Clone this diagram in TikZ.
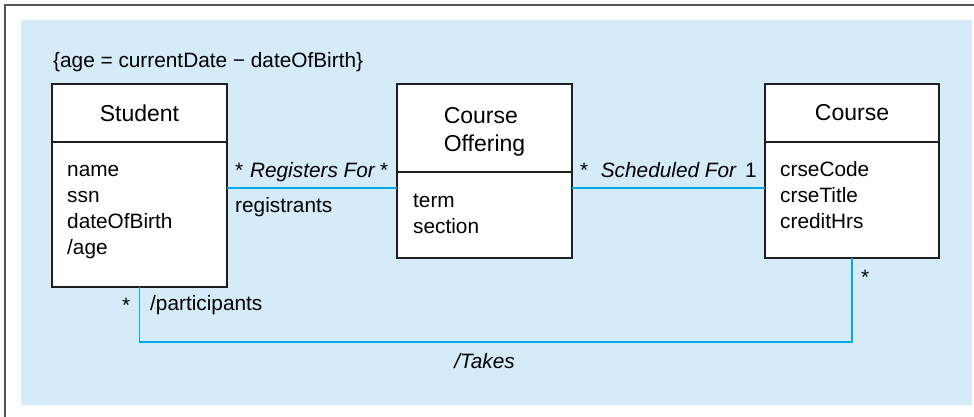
\documentclass[tikz,border=0pt]{standalone}
\usepackage{fontspec}
\setmainfont{Liberation Sans}
\usepackage{xcolor}
\usepackage{tikz}
\usetikzlibrary{positioning}
\definecolor{umlbg}{RGB}{214,235,248}
\definecolor{umlline}{RGB}{0,170,235}
\definecolor{umlframe}{RGB}{85,85,85}
\definecolor{umlbox}{RGB}{30,30,30}

\begin{document}
\begin{tikzpicture}[x=1pt, y=-1pt,
    classhead/.style={draw=umlbox, fill=white, line width=1.2pt, outer sep=0pt,
      inner sep=0pt, minimum width=175, font=\fontsize{23}{28}\selectfont, align=left},
    classbody/.style={draw=umlbox, fill=white, line width=1.2pt, outer sep=0pt,
      inner sep=0pt, minimum width=175},
    attr/.style={inner sep=0pt, align=left, font=\fontsize{20.8}{25.7}\selectfont},
    txt/.style={inner sep=0pt, font=\fontsize{20.8}{25.7}\selectfont},
    assocname/.style={inner sep=0pt, font=\fontsize{20.8}{25.7}\selectfont\itshape},
    assoc/.style={draw=umlline, line width=1.3pt}]
  \useasboundingbox (0,0) rectangle (974,417);
  \fill[umlbg] (21,20) rectangle (972,405);
  \draw[umlframe, line width=1.8pt] (5,417) -- (5,5) -- (974,5);

  \node[txt, anchor=base west] (constraint) at (53,68) {\{age = currentDate − dateOfBirth\}};

  \node[classhead, minimum height=58] (student) at (139.5,113) {Student};
  \node[classbody, minimum height=145, below=0pt of student] (studentbody) {};
  \node[attr, anchor=base west] (studentattr) at (67,254) {name\\ssn\\dateOfBirth\\/age};

  \node[classhead, minimum height=88, text height=46pt, text depth=0pt] (offering) at (484.5,128) {Course\\Offering};
  \node[classbody, minimum height=86, below=0pt of offering] (offeringbody) {};
  \node[attr, anchor=base west] (offeringattr) at (413,233) {term\\section};

  \node[classhead, minimum width=174, minimum height=58] (course) at (852,113) {Course};
  \node[classbody, minimum width=174, minimum height=116, below=0pt of course] (coursebody) {};
  \node[attr, anchor=base west] (courseattr) at (780,228) {crseCode\\crseTitle\\creditHrs};

  \coordinate (assocy) at (0,188);
  \coordinate (takesy) at (0,342);

  \draw[assoc] (studentbody.east |- assocy) -- (offeringbody.west |- assocy);
  \node[txt, anchor=base west] (regfrom) at (235,177) {*};
  \node[assocname, anchor=base] (regname) at (312.5,177) {Registers For};
  \node[txt, anchor=base east] (regto) at (388.5,177) {*};
  \node[txt, anchor=base west] (registrants) at (235,212) {registrants};

  \draw[assoc] (offeringbody.east |- assocy) -- (coursebody.west |- assocy);
  \node[txt, anchor=base west] (schedfrom) at (580,177) {*};
  \node[assocname, anchor=base] (schedname) at (668.5,177) {Scheduled For};
  \node[txt, anchor=base east] (schedto) at (757,177) {1};

  \draw[assoc] (studentbody.south) -- (studentbody.south |- takesy) -| (coursebody.south);
  \node[txt, anchor=base east] (takesfrom) at (130.5,312) {*};
  \node[txt, anchor=base west] (participants) at (150,310) {/participants};
  \node[txt, anchor=base west] (takesto) at (861,284) {*};
  \node[assocname, anchor=base] (takesname) at (484.5,368) {/Takes};
\end{tikzpicture}
\end{document}
